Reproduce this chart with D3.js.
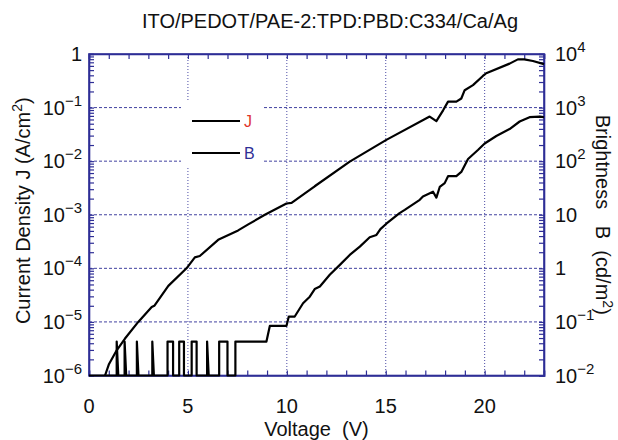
<!DOCTYPE html>
<html><head><meta charset="utf-8">
<script src="https://cdn.jsdelivr.net/npm/d3@7"></script>
<style>
body{margin:0;background:#fff;}
svg{display:block;font-family:"Liberation Sans",Arial,Helvetica,sans-serif;}
</style></head>
<body><svg id="c" width="618" height="440"></svg>
<script>
// ---- data ----
const titleText = "ITO/PEDOT/PAE-2:TPD:PBD:C334/Ca/Ag";
const xTicks = [0, 5, 10, 15, 20];
const leftExps = [0, -1, -2, -3, -4, -5, -6];
const rightExps = [4, 3, 2, 1, 0, -1, -2];
const legendLabels = ["J", "B"];

// Current density J (A/cm^2) vs voltage (V)
const jVoltage = [0.81, 1.0, 1.4, 1.82, 2.49, 3.17, 3.3, 4.01, 4.93, 5.35, 5.6, 6.53, 7.54, 8.05, 8.89, 9.98, 10.24, 11.16, 11.41, 13.18, 15.03, 17.22, 17.56, 17.9, 18.15, 18.57, 18.82, 18.99, 19.41, 19.91, 20.08, 21.26, 21.68, 22.0, 22.44, 23.0];
const jValues = [1.0e-6, 1.6e-6, 2.95e-6, 4.9e-6, 1.0e-5, 1.9e-5, 2.0e-5, 4.7e-5, 1.0e-4, 1.6e-4, 1.7e-4, 3.4e-4, 5.1e-4, 6.6e-4, 1.0e-3, 1.62e-3, 1.66e-3, 2.9e-3, 3.4e-3, 9.8e-3, 2.5e-2, 6.8e-2, 5.6e-2, 8.9e-2, 0.129, 0.129, 0.148, 0.211, 0.263, 0.389, 0.437, 0.661, 0.794, 0.794, 0.741, 0.646];

// Brightness B (cd/m^2) vs voltage (V)
const bVoltage = [0.0, 1.40, 1.40, 1.48, 1.80, 1.80, 1.88, 2.42, 2.42, 2.50, 3.20, 3.20, 3.28, 3.97, 3.97, 4.25, 4.25, 4.56, 4.56, 4.80, 4.80, 5.19, 5.19, 5.44, 5.44, 5.97, 5.97, 6.05, 6.58, 6.58, 7.00, 7.00, 7.40, 7.40, 8.97, 9.14, 9.98, 10.10, 10.40, 10.82, 11.16, 11.41, 11.67, 12.17, 12.68, 13.18, 13.69, 14.19, 14.53, 14.73, 15.03, 15.7, 15.96, 16.72, 16.88, 17.39, 17.56, 17.73, 17.98, 18.15, 18.57, 18.82, 19.16, 19.66, 20.0, 20.59, 21.26, 21.77, 22.27, 22.78, 23.0];
const bValues = [0.01, 0.01, 0.043, 0.01, 0.01, 0.043, 0.01, 0.01, 0.043, 0.01, 0.01, 0.043, 0.01, 0.01, 0.043, 0.043, 0.01, 0.01, 0.043, 0.043, 0.01, 0.01, 0.043, 0.043, 0.01, 0.01, 0.043, 0.01, 0.01, 0.043, 0.043, 0.01, 0.01, 0.043, 0.043, 0.084, 0.084, 0.126, 0.126, 0.223, 0.296, 0.41, 0.457, 0.76, 1.16, 1.78, 2.54, 3.8, 4.2, 5.4, 6.8, 10.7, 12.3, 19, 21.9, 26.9, 20.9, 33, 38.9, 52.5, 52.5, 63, 110, 162, 214, 295, 398, 550, 661, 676, 661];

// ---- layout ----
const L = 89, R = 544, T = 54, B = 375.5;
const axisColor = "#2e2e96";
const svg = d3.select("#c");

const x = d3.scaleLinear().domain([0, 23]).range([L, R]);
const yJ = d3.scaleLog().domain([1e-6, 1]).range([B, T]);
const yB = d3.scaleLog().domain([1e-2, 1e4]).range([B, T]);

// grid
const grid = svg.append("g");
xTicks.filter(v => v > 0).forEach(v => {
  grid.append("line").attr("x1", x(v)).attr("x2", x(v)).attr("y1", T).attr("y2", B)
    .attr("stroke", axisColor).attr("stroke-width", 1).attr("stroke-dasharray", "1,2").attr("opacity", 0.85);
});
leftExps.filter(e => e < 0 && e > -6).forEach(e => {
  grid.append("line").attr("x1", L).attr("x2", R).attr("y1", yJ(Math.pow(10, e))).attr("y2", yJ(Math.pow(10, e)))
    .attr("stroke", axisColor).attr("stroke-width", 1).attr("stroke-dasharray", "3,2").attr("opacity", 0.9);
});

// legend background (hides grid)
svg.append("rect").attr("x", 181).attr("y", 102).attr("width", 81).attr("height", 66).attr("fill", "#fff");

// axes with inward ticks
const minorX = d3.range(0, 24, 1);
const axB = svg.append("g").attr("transform", `translate(0,${B})`)
  .call(d3.axisTop(x).tickValues(minorX).tickSize(5).tickFormat(""));
const axT = svg.append("g").attr("transform", `translate(0,${T})`)
  .call(d3.axisBottom(x).tickValues(minorX).tickSize(5).tickFormat(""));
const logTicks = [];
for (let e = -6; e < 0; e++) for (let m = 1; m < 10; m++) logTicks.push(m * Math.pow(10, e));
logTicks.push(1);
const axL = svg.append("g").attr("transform", `translate(${L},0)`)
  .call(d3.axisRight(yJ).tickValues(logTicks).tickSize(5).tickFormat(""));
const axR = svg.append("g").attr("transform", `translate(${R},0)`)
  .call(d3.axisLeft(yJ).tickValues(logTicks).tickSize(5).tickFormat(""));
[axB, axT, axL, axR].forEach(a => {
  a.selectAll("path").attr("stroke", axisColor).attr("stroke-width", 1.6);
  a.selectAll("line").attr("stroke", axisColor).attr("stroke-width", 1.2);
});
// frame
svg.append("rect").attr("x", L).attr("y", T).attr("width", R - L).attr("height", B - T)
  .attr("fill", "none").attr("stroke", axisColor).attr("stroke-width", 1.6);

// tick labels
const fs = 20;
svg.append("g").selectAll("text").data(xTicks).join("text")
  .attr("x", d => x(d)).attr("y", B + 37).attr("text-anchor", "middle")
  .attr("font-size", fs).attr("fill", "#111").text(d => d);

function powLabel(g, e, xpos, ypos, anchor) {
  const t = g.append("text").attr("x", xpos).attr("y", ypos + 7).attr("text-anchor", anchor)
    .attr("font-size", fs).attr("fill", "#111");
  if (e === 0) { t.text("1"); return; }
  if (e === 1) { t.text("10"); return; }
  t.append("tspan").text("10");
  t.append("tspan").attr("dy", -9).attr("font-size", 15).text(e < 0 ? "\u2212" + (-e) : String(e));
}
const gl = svg.append("g");
leftExps.forEach(e => powLabel(gl, e, 82, yJ(Math.pow(10, e)), "end"));
const gr = svg.append("g");
rightExps.forEach(e => powLabel(gr, e, 555, yB(Math.pow(10, e)), "start"));

// curves
const line = d3.line();
const jPts = jVoltage.map((v, i) => [x(v), yJ(jValues[i])]);
const bPts = bVoltage.map((v, i) => [x(v), yB(bValues[i])]);
svg.append("path").attr("d", line(jPts)).attr("fill", "none").attr("stroke", "#000").attr("stroke-width", 2.2).attr("stroke-linejoin", "round");
svg.append("path").attr("d", line(bPts)).attr("fill", "none").attr("stroke", "#000").attr("stroke-width", 2.2).attr("stroke-linejoin", "round");

// legend
const legY = [121, 153];
const legCol = ["#e0342c", "#2e2e96"];
legendLabels.forEach((lab, i) => {
  svg.append("line").attr("x1", 192).attr("x2", 240).attr("y1", legY[i]).attr("y2", legY[i]).attr("stroke", "#000").attr("stroke-width", 2.2);
  svg.append("text").attr("x", 244).attr("y", legY[i] + 6).attr("font-size", 16).attr("fill", legCol[i]).text(lab);
});

// titles
svg.append("text").attr("x", 330).attr("y", 28).attr("text-anchor", "middle").attr("font-size", 20).attr("fill", "#111").text(titleText);
svg.append("text").attr("x", (L + R) / 2).attr("y", 436).attr("text-anchor", "middle").attr("font-size", 20).attr("fill", "#111").text("Voltage\u00a0\u00a0(V)");
const yl = svg.append("text").attr("transform", `translate(30,${(T + B) / 2 - 4}) rotate(-90)`).attr("text-anchor", "middle").attr("font-size", 20).attr("fill", "#111");
yl.append("tspan").text("Current Density J (A/cm");
yl.append("tspan").attr("dy", -8).attr("font-size", 14).text("2");
yl.append("tspan").attr("dy", 8).text(")");
const yr = svg.append("text").attr("transform", `translate(596,${(T + B) / 2}) rotate(90)`).attr("text-anchor", "middle").attr("font-size", 20).attr("fill", "#111");
yr.append("tspan").text("Brightness\u00a0\u00a0\u00a0B\u00a0\u00a0(cd/m");
yr.append("tspan").attr("dy", -7).attr("font-size", 14).text("2");
yr.append("tspan").attr("dy", 7).text(")");
</script></body></html>
